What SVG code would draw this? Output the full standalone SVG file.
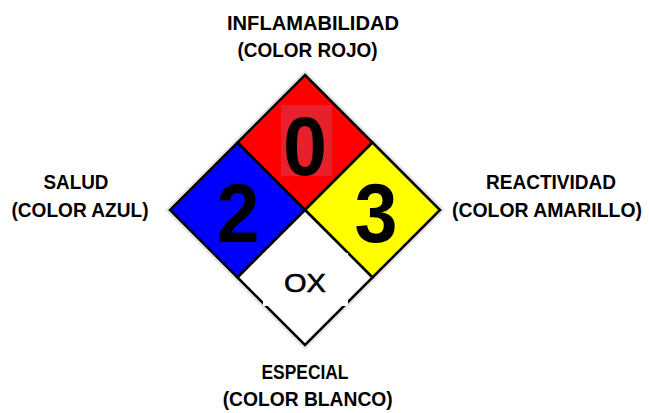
<svg xmlns="http://www.w3.org/2000/svg" width="649" height="413" viewBox="0 0 649 413">
<style>
.lbl{font-family:"Liberation Sans",Arial,sans-serif;font-weight:bold;font-size:21px;fill:#000;text-anchor:middle}
.num{font-family:"Liberation Sans",Arial,sans-serif;font-weight:bold;font-size:84px;fill:#000;text-anchor:middle}
.sq{stroke:#000;stroke-width:2.5;stroke-linejoin:miter}
</style>
<rect width="649" height="413" fill="#fff"/>
<g id="halo"><polygon points="305,72 443,210 305,348 167,210" fill="none" stroke="#e6e6e6" stroke-width="3"/></g>
<g id="flammability">
<polygon class="sq" points="305,75 372.5,142.5 305,210 237.5,142.5" fill="#ff0000"/>
<rect x="281" y="105" width="51" height="71" fill="#e8202c"/>
<text class="num" x="305" y="175" textLength="44" lengthAdjust="spacingAndGlyphs">0</text>
</g>
<g id="health">
<polygon class="sq" points="237.5,142.5 305,210 237.5,277.5 170,210" fill="#0000ff"/>
<text class="num" x="238" y="242" textLength="43" lengthAdjust="spacingAndGlyphs">2</text>
</g>
<g id="reactivity">
<polygon class="sq" points="372.5,142.5 440,210 372.5,277.5 305,210" fill="#ffff00"/>
<text class="num" x="376" y="242" textLength="43" lengthAdjust="spacingAndGlyphs">3</text>
</g>
<g id="special">
<polygon class="sq" points="305,210 372.5,277.5 305,345 237.5,277.5" fill="#ffffff"/>
<rect x="263" y="253" width="85" height="53" fill="#fff"/>
<text x="305" y="292" font-family="Liberation Sans, Arial, sans-serif" font-size="26" stroke="#000" stroke-width="0.6" text-anchor="middle" textLength="42" lengthAdjust="spacingAndGlyphs">OX</text>
</g>
<g id="labels">
<text class="lbl" x="313" y="30" textLength="172" lengthAdjust="spacingAndGlyphs">INFLAMABILIDAD</text>
<text class="lbl" x="307.5" y="57" textLength="140" lengthAdjust="spacingAndGlyphs">(COLOR ROJO)</text>
<text class="lbl" x="76" y="189" textLength="65" lengthAdjust="spacingAndGlyphs">SALUD</text>
<text class="lbl" x="80" y="217" textLength="137" lengthAdjust="spacingAndGlyphs">(COLOR AZUL)</text>
<text class="lbl" x="551" y="189" textLength="130" lengthAdjust="spacingAndGlyphs">REACTIVIDAD</text>
<text class="lbl" x="547" y="217" style="font-size:19.5px" textLength="190" lengthAdjust="spacingAndGlyphs">(COLOR AMARILLO)</text>
<text class="lbl" x="305" y="379" textLength="87" lengthAdjust="spacingAndGlyphs">ESPECIAL</text>
<text class="lbl" x="307.7" y="406" textLength="170" lengthAdjust="spacingAndGlyphs">(COLOR BLANCO)</text>
</g>
</svg>
